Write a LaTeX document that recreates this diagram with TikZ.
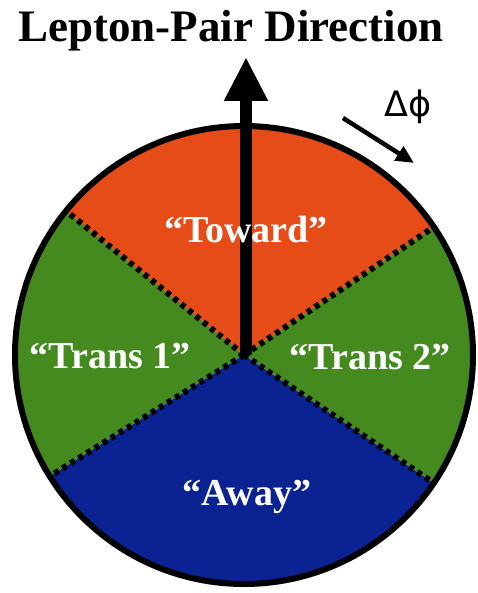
\documentclass[tikz,border=0pt]{standalone}
\usepackage{fontspec}
\setmainfont{Liberation Serif}
\newfontfamily\symfont{DejaVu Sans}
\usetikzlibrary{arrows.meta}
\definecolor{towardred}{RGB}{230,76,24}
\definecolor{transgreen}{RGB}{68,138,30}
\definecolor{awayblue}{RGB}{10,34,146}
\tikzset{
  divider/.style={line width=6pt, line cap=butt, dash pattern=on 5pt off 4.5pt},
  rim/.style={line width=6pt, draw=black},
  label/.style={text=white, font=\fontsize{38}{40}\selectfont\bfseries, inner sep=0pt},
  title/.style={font=\fontsize{45}{47}\selectfont\bfseries, inner sep=0pt, anchor=base},
}
\begin{document}
\begin{tikzpicture}[x=1pt,y=1pt]
\useasboundingbox (0,0) rectangle (478,-593);
\coordinate (O) at (244,-355);
\def\R{229}
% sectors
\fill[towardred] (O) -- ++(34:\R) arc[start angle=34,end angle=141,radius=\R] -- cycle;
\fill[transgreen] (O) -- ++(141:\R) arc[start angle=141,end angle=212,radius=\R] -- cycle;
\fill[awayblue] (O) -- ++(212:\R) arc[start angle=212,end angle=326,radius=\R] -- cycle;
\fill[transgreen] (O) -- ++(-34:\R) arc[start angle=-34,end angle=34,radius=\R] -- cycle;
% dividers
\path (O) ++(34:\R) coordinate (d1);
\path (O) ++(141:\R) coordinate (d2);
\path (O) ++(212:\R) coordinate (d3);
\path (O) ++(-34:\R) coordinate (d4);
\draw[divider] (O) -- (d1);
\draw[divider] (O) -- (d2);
\draw[divider] (O) -- (d3);
\draw[divider] (O) -- (d4);
% rim
\draw[rim] (O) circle[radius=\R];
% main arrow
\coordinate (base) at (246,-355);
\coordinate (tip) at (246,-57);
\draw[line width=12pt, -{Triangle[width=41pt,length=44pt]}] (base) -- (tip);
% title
\node[title] (ttl) at (231,-42) {Lepton-Pair Direction};
% delta phi
\coordinate (p1) at (343,-118);
\coordinate (p2) at (414,-163);
\draw[line width=4.5pt, -{Triangle[width=16pt,length=18pt]}] (p1) -- (p2);
\node[anchor=base, inner sep=0pt, font=\symfont\fontsize{35}{37}\selectfont] (dphi) at (408,-117) {Δϕ};
% labels
\node[label] (toward) at (246,-230) {“Toward”};
\node[label] (trans1) at (110,-356) {“Trans 1”};
\node[label] (trans2) at (370,-357) {“Trans 2”};
\node[label] (away) at (247,-497) {“Away”};
\end{tikzpicture}
\end{document}
